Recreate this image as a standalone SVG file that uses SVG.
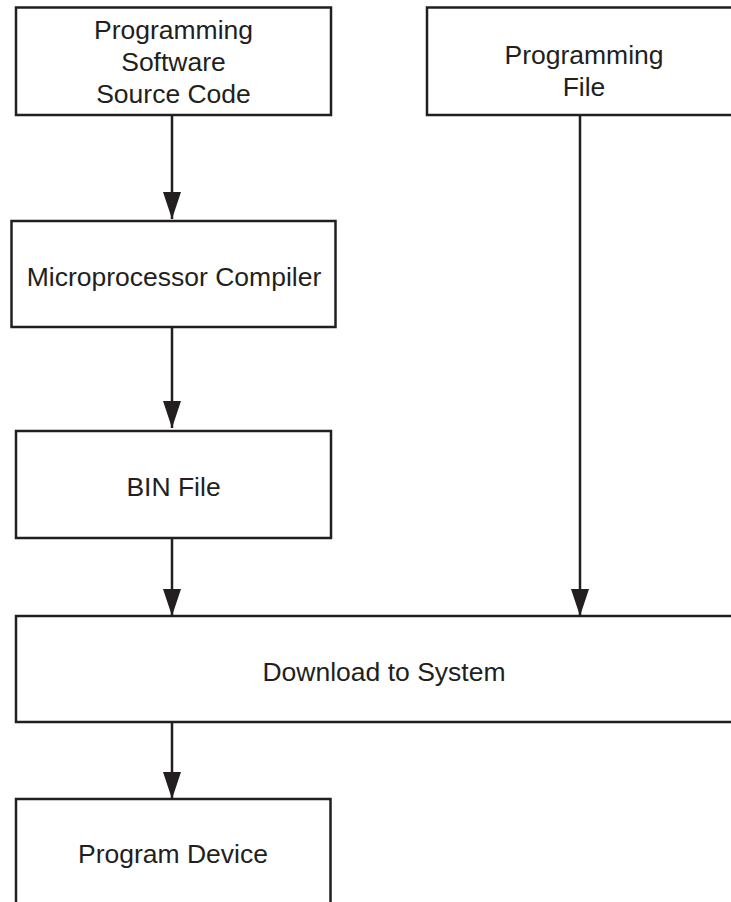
<svg xmlns="http://www.w3.org/2000/svg" width="731" height="902" viewBox="0 0 731 902">
<style>
.box{fill:#fff;stroke:#231f20;stroke-width:2.5}
.lbl{font-family:"Liberation Sans",Arial,sans-serif;font-size:26.5px;fill:#231f20;text-anchor:middle}
.conn{stroke:#231f20;stroke-width:2.5;fill:none;marker-end:url(#ah)}
</style>
<defs>
<marker id="ah" markerUnits="userSpaceOnUse" markerWidth="27" markerHeight="18" viewBox="0 0 27 18" refX="27" refY="9" orient="auto">
<path d="M0,0 L27,9 L0,18 Z" fill="#231f20"/>
</marker>
</defs>
<rect width="731" height="902" fill="#fff"/>
<g id="src">
<rect class="box" x="16" y="7.5" width="315" height="107.5"/>
<text class="lbl" x="173.5" y="38.5">Programming</text>
<text class="lbl" x="173.5" y="70.5">Software</text>
<text class="lbl" x="173.5" y="102.5">Source Code</text>
</g>
<g id="progfile">
<rect class="box" x="427" y="7.5" width="320" height="107.5"/>
<text class="lbl" x="584" y="63.5">Programming</text>
<text class="lbl" x="584" y="95.5">File</text>
</g>
<g id="compiler">
<rect class="box" x="11.5" y="221" width="324" height="106"/>
<text class="lbl" x="174" y="286">Microprocessor Compiler</text>
</g>
<g id="bin">
<rect class="box" x="16" y="431" width="315" height="107"/>
<text class="lbl" x="173.5" y="496">BIN File</text>
</g>
<g id="download">
<rect class="box" x="16" y="616" width="730" height="106"/>
<text class="lbl" x="384" y="680.5">Download to System</text>
</g>
<g id="device">
<rect class="box" x="16" y="799" width="314.5" height="120"/>
<text class="lbl" x="173" y="862.5">Program Device</text>
</g>
<g id="connectors">
<line class="conn" x1="172" y1="116" x2="172" y2="219"/>
<line class="conn" x1="172" y1="328" x2="172" y2="428"/>
<line class="conn" x1="172" y1="539" x2="172" y2="616"/>
<line class="conn" x1="580" y1="116" x2="580" y2="616"/>
<line class="conn" x1="172" y1="723" x2="172" y2="799"/>
</g>
</svg>
